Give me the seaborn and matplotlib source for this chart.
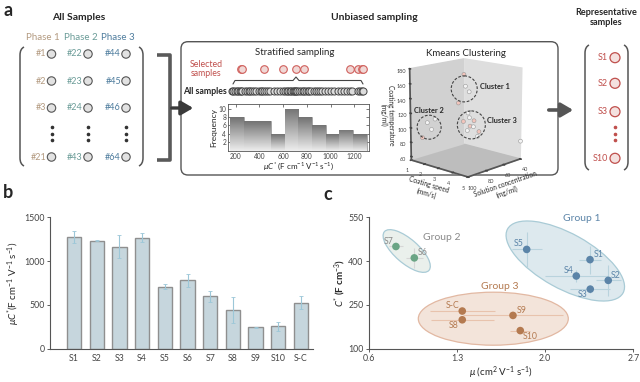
import numpy as np
import pandas as pd
import matplotlib
matplotlib.use('Agg')
import matplotlib.pyplot as plt
import seaborn as sns
from matplotlib.patches import Ellipse, Circle, FancyBboxPatch, PathPatch
from matplotlib.path import Path
from mpl_toolkits.mplot3d import proj3d

# ── DATA ────────────────────────────────────────────────────────────────────
samples   = ['S1', 'S2', 'S3', 'S4', 'S5', 'S6', 'S7', 'S8', 'S9', 'S10', 'S-C']
muC       = [1271, 1233, 1165, 1268, 708, 780, 598, 442, 244, 255, 525]
muC_err   = [70, 5, 133, 50, 27, 72, 60, 147, 5, 51, 76]

mu        = [2.356, 2.501, 2.358, 2.247, 1.853, 0.96, 0.814, 1.341, 1.744, 1.802, 1.341]
mu_err    = [0.085, 0.10, 0.16, 0.25, 0.119, 0.066, 0.056, 0.25, 0.40, 0.08, 0.257]
cap       = [405, 334, 304, 349, 440, 411, 450, 199, 214, 162, 229]
cap_err   = [48, 54, 14, 20, 60, 34, 8, 8, 8, 8, 8]
group     = [1, 1, 1, 1, 1, 2, 2, 3, 3, 3, 3]

# all 63 screened samples (muC*)
all_muC = [165, 180, 195, 210, 222, 235, 244, 255,
           280, 295, 310, 325, 340, 355, 370,
           395, 410, 425, 442, 458, 472, 488,
           520, 545, 575, 598,
           620, 632, 645, 658, 668, 680, 690, 700, 708, 720,
           738, 752, 766, 780, 795, 808, 822, 836,
           860, 878, 896, 914, 932, 950,
           975, 1000, 1030, 1060,
           1090, 1115, 1140, 1165, 1180,
           1233, 1250, 1268, 1271]
hist_edges = [154, 269, 384, 499, 614, 729, 844, 959, 1074, 1189, 1304]
selected = [244, 255, 442, 598, 708, 780, 1165, 1233, 1268, 1271]

phases     = ['Phase 1', 'Phase 2', 'Phase 3']
phase_ids  = [['#1', '#2', '#3', '#21'], ['#22', '#23', '#24', '#43'], ['#44', '#45', '#46', '#64']]
rep_labels = ['S1', 'S2', 'S3', 'S10']

# kmeans schematic points: speed (mm/s), concentration (mg/ml), temperature, cluster
km_speed   = [1.3, 1.6, 1.2, 1.5, 1.4, 1.3, 1.5, 1.7, 3.0, 3.2, 3.4, 2.8, 3.1, 3.3, 2.9, 3.5, 2.7, 5.0]
km_conc    = [45, 48, 50, 42, 88, 92, 85, 84, 66, 64, 68, 62, 70, 60, 66, 65, 68, 40]
km_temp    = [160, 145, 120, 135, 105, 85, 95, 110, 112, 108, 102, 98, 96, 92, 118, 88, 106, 80]
km_cluster = [1, 1, 1, 1, 2, 2, 2, 2, 3, 3, 3, 3, 3, 3, 3, 3, 3, 0]
km_sel     = [1, 0, 1, 0, 0, 1, 0, 0, 0, 1, 0, 1, 0, 1, 0, 0, 1, 0]

# ── STYLE ───────────────────────────────────────────────────────────────────
sns.set_theme(style='ticks')
plt.rcParams['font.family'] = ['Lato', 'DejaVu Sans']
plt.rcParams['mathtext.fontset'] = 'custom'
plt.rcParams['mathtext.rm'] = 'Lato'
plt.rcParams['mathtext.it'] = 'Lato:italic'
plt.rcParams['axes.edgecolor'] = '#555555'
plt.rcParams['xtick.color'] = '#444444'
plt.rcParams['ytick.color'] = '#444444'

PH_COL = ['#b39a80', '#6b9c98', '#4f7d9e']
RED = '#c0504d'
G_COL = {1: '#5b84a8', 2: '#6aa585', 3: '#b47a50'}
G_TXT = {1: '#5b84a8', 2: '#8a8a8a', 3: '#b47a50'}
G_ERR = {1: '#b9d3dd', 2: '#d6d6d6', 3: '#e8c3ad'}

fig = plt.figure(figsize=(6.4, 3.82), dpi=100)

# pixel-space overlay (image coordinates, y down)
ov = fig.add_axes([0, 0, 1, 1], zorder=0)
ov.set_xlim(0, 640)
ov.set_ylim(382, 0)
ov.axis('off')

def px(x, y):
    return x / 640, 1 - y / 382

# ── PANEL A ─────────────────────────────────────────────────────────────────
ov.text(3, 10, 'a', fontsize=13, fontweight='bold', va='center', ha='left')
ov.text(79, 17, 'All Samples', fontsize=7.5, fontweight='bold', ha='center', va='center')
ov.text(374, 17, 'Unbiased sampling', fontsize=7.5, fontweight='bold', ha='center', va='center')
ov.text(606, 17.5, 'Representative\nsamples', fontsize=6.6, fontweight='bold',
        ha='center', va='center', linespacing=1.15)

def paren(x, y0, y1, side):
    d = 4 if side == 'l' else -4
    verts = [(x + d, y0), (x, y0 + 2), (x, y0 + 8), (x, y1 - 8), (x, y1 - 2), (x + d, y1)]
    codes = [Path.MOVETO, Path.CURVE3, Path.CURVE3, Path.LINETO, Path.CURVE3, Path.CURVE3]
    ov.add_patch(PathPatch(Path(verts, codes), fill=False, ec='#555555', lw=1.1))

paren(20, 47, 166, 'l')
paren(143, 47, 166, 'r')
paren(585, 45, 170, 'l')
paren(628, 45, 170, 'r')

col_x = [51.5, 88, 126]
row_y = [54, 81, 108, 157]
for c in range(3):
    ov.text([43, 81, 118][c], 37.7, phases[c], color=PH_COL[c], fontsize=7, ha='center', va='center')
    for r in range(4):
        ov.add_patch(Circle((col_x[c], row_y[r]), 4.2, fc='#e2e2e2', ec='#555555', lw=0.8))
        ov.text(col_x[c] - 5, row_y[r], phase_ids[c][r], color=PH_COL[c], fontsize=6.5,
                ha='right', va='center')
    ov.plot([col_x[c]] * 3, [127, 133.5, 140], 'o', color='#333333', ms=1.6)

# representative samples
rep_y = [57.7, 83.3, 111.7, 158.3]
for lab, y in zip(rep_labels, rep_y):
    ov.add_patch(Circle((615, y), 5, fc='#f4e1df', ec=RED, lw=0.9))
    ov.text(608, y, lab, color=RED, fontsize=6.5, ha='right', va='center')
ov.plot([615] * 3, [127, 133.5, 140], 'o', color=RED, ms=1.6)

# big bracket + arrows
ov.plot([157, 170, 170, 157], [55, 55, 160, 160], color='#5a5a5a', lw=2.6,
        solid_joinstyle='round', solid_capstyle='butt')
ov.annotate('', xy=(196, 108), xytext=(169, 108),
            arrowprops=dict(arrowstyle='-|>,head_length=0.6,head_width=0.35',
                            color='#3a3a3a', lw=2.4))
ov.annotate('', xy=(576, 110), xytext=(546, 110),
            arrowprops=dict(arrowstyle='-|>,head_length=0.6,head_width=0.35',
                            color='#555555', lw=2.6))

# unbiased sampling box
ov.add_patch(FancyBboxPatch((181, 41.7), 377, 133.3, boxstyle='round,pad=0,rounding_size=7',
                            fc='none', ec='#555555', lw=1.0))
ov.text(295, 52.7, 'Stratified sampling', fontsize=7, ha='center', va='center')
ov.text(466, 53.3, 'Kmeans Clustering', fontsize=7, ha='center', va='center')
ov.text(206, 69, 'Selected\nsamples', fontsize=6.3, color=RED, ha='center', va='center',
        linespacing=1.1)
ov.text(205, 91, 'All samples', fontsize=6.3, fontweight='bold', ha='center', va='center')
ov.plot([233, 235, 293, 296, 299, 361, 363], [84, 80.5, 80.5, 77, 80.5, 80.5, 84],
        color='#444444', lw=0.8)

# sample strips sharing the histogram x scale
hist_l, hist_r = 228.3, 369
strip = fig.add_axes([px(hist_l, 0)[0], 1 - 97 / 382, (hist_r - hist_l) / 640, 35 / 382], zorder=2)
strip.set_xlim(138, 1324)
strip.set_ylim(0, 1)
strip.axis('off')
strip.scatter(all_muC, [0.17] * len(all_muC), s=26, fc='#dcdcdc', ec='#444444', lw=0.7)
strip.scatter(selected, [0.8] * len(selected), s=30, fc='#f0d8d6', ec='#d0605c', lw=0.8)

# histogram
axh = fig.add_axes([px(hist_l, 0)[0], 1 - 150.7 / 382, (hist_r - hist_l) / 640, 46.7 / 382], zorder=2)
sns.histplot(x=all_muC, bins=hist_edges, ax=axh, color='#9a9a9a', edgecolor='#8a8a8a',
             linewidth=0.4, alpha=1)
grad = np.linspace(0.45, 0.93, 64)[:, None]
for p in list(axh.patches):
    x0, w, h = p.get_x(), p.get_width(), p.get_height()
    im = axh.imshow(grad, cmap='gray', vmin=0, vmax=1, aspect='auto', origin='upper',
                    extent=(x0, x0 + w, 0, h), zorder=p.get_zorder())
    im.set_clip_path(p)
axh.set_xlim(138, 1324)
axh.set_ylim(0, 11.1)
axh.set_xticks([200, 400, 600, 800, 1000, 1200])
axh.set_yticks([2, 4, 6, 8, 10])
axh.tick_params(labelsize=4.8, direction='in', top=True, right=True, length=2, pad=1.5, width=0.5)
for s in axh.spines.values():
    s.set_linewidth(0.6)
axh.set_ylabel('Frequency', fontsize=6, labelpad=1)
axh.set_xlabel(r'$\mu C^{*}$ (F cm$^{-1}$ V$^{-1}$ s$^{-1}$)', fontsize=5.8, labelpad=1)

# kmeans 3D schematic
ax3 = fig.add_axes([0.615, 0.505, 0.22, 0.38], projection='3d', zorder=2)
ax3.patch.set_alpha(0)
ax3.set_box_aspect((1, 1, 1.2))
ax3.view_init(elev=14, azim=-47)
ax3.set_xlim(1, 5)
ax3.set_ylim(100, 40)
ax3.set_zlim(55, 180)
ax3.set_xticks([1, 2, 3, 4, 5])
ax3.set_yticks([100, 80, 60, 40])
ax3.set_zticks([60, 80, 100, 120, 140, 160, 180])
ax3.zaxis.set_ticks_position('upper')
ax3.zaxis.set_label_position('upper')
ax3.grid(False)
ax3.xaxis.set_pane_color((0.82, 0.82, 0.82, 1))
ax3.yaxis.set_pane_color((0.87, 0.87, 0.87, 1))
ax3.zaxis.set_pane_color((0.74, 0.74, 0.74, 1))
ax3.tick_params(labelsize=4, pad=-4)
ax3.set_xlabel('Coating speed\n(mm/s)', fontsize=4.8, labelpad=-11)
ax3.set_ylabel('Solution concentration\n(mg/ml)', fontsize=4.8, labelpad=-11)
ax3.set_zlabel('Coating temperature\n(mg/ml)', fontsize=4.8, labelpad=-10)
ax3.scatter(km_speed, km_conc, km_temp, s=8,
            c=['#f2c4bb' if k else '#f4f4f4' for k in km_sel], edgecolors='#999999',
            linewidths=0.4, depthshade=False)

ov2 = fig.add_axes([0, 0, 1, 1], zorder=5)
ov2.set_xlim(0, 640)
ov2.set_ylim(382, 0)
ov2.axis('off')

# dashed cluster outlines centred on projected cluster centroids
fig.canvas.draw()
km = pd.DataFrame({'s': km_speed, 'c': km_conc, 't': km_temp, 'k': km_cluster})
cent = km[km.k > 0].groupby('k').mean()
radii = {1: 13, 2: 12, 3: 14}
lab_off = {1: (31, -2), 2: (0, -17), 3: (31, -4)}
for k, row in cent.iterrows():
    xs, ys, _ = proj3d.proj_transform(row.s, row.c, row.t, ax3.get_proj())
    dx, dy = ax3.transData.transform((xs, ys))
    cx, cy = dx * 640 / fig.bbox.width, 382 - dy * 382 / fig.bbox.height
    ov2.add_patch(Circle((cx, cy), radii[k], fill=False, ec='#444444', lw=0.8, ls=(0, (2.5, 1.5))))
    ov2.text(cx + lab_off[k][0], cy + lab_off[k][1], f'Cluster {k}', fontsize=5.3,
             fontweight='bold', ha='center', va='center')

# ── PANEL B ─────────────────────────────────────────────────────────────────
ov.text(3, 193, 'b', fontsize=13, fontweight='bold', va='center', ha='left')
axb = fig.add_axes([50 / 640, 1 - 348.7 / 382, 263 / 640, 131.4 / 382], zorder=2)
dfb = pd.DataFrame({'sample': samples, 'muC': muC})
sns.barplot(data=dfb, x='sample', y='muC', color='#c6d6dd', edgecolor='#8f8f8f',
            linewidth=1.0, width=0.63, saturation=1, errorbar=None, ax=axb)
axb.errorbar(range(len(samples)), muC, yerr=muC_err, fmt='none', ecolor='#9cc7d8',
             elinewidth=0.8, capsize=1.2, capthick=0.6)
axb.set_xlim(-1.06, 10.53)
axb.set_ylim(0, 1500)
axb.set_yticks([0, 500, 1000, 1500])
axb.set_xlabel('')
axb.set_ylabel(r'$\mu C^{*}$(F cm$^{-1}$ V$^{-1}$ s$^{-1}$)', fontsize=7)
axb.yaxis.set_label_coords(-0.105, 0.5)
axb.tick_params(axis='y', labelsize=6.3, length=2.5, width=0.6, pad=1.5)
axb.tick_params(axis='x', labelsize=6.3, length=0, pad=4)
sns.despine(ax=axb)
for s in axb.spines.values():
    s.set_linewidth(0.8)

# ── PANEL C ─────────────────────────────────────────────────────────────────
ov.text(323, 195, 'c', fontsize=13, fontweight='bold', va='center', ha='left')
axc = fig.add_axes([369 / 640, 1 - 348.7 / 382, 264.3 / 640, 131.4 / 382], zorder=2)
axc.patch.set_alpha(0)
ells = [((565.3, 261), 132, 55, 29, '#dde9ee', '#a9cbd6', 1),
        ((406.7, 251), 59, 24, 41, '#eaf0ec', '#a9cbd6', 2),
        ((493.3, 318.7), 150, 53, 0, '#f3e4da', '#e2b8a2', 3)]
for (c, w, h, a, fc, ec, g) in ells:
    axc.add_patch(Ellipse(c, w, h, angle=a, fc=fc, ec=ec, lw=0.9, transform=ov.transData,
                          clip_on=False, zorder=0.5))
dfc = pd.DataFrame({'sample': samples, 'mu': mu, 'cap': cap, 'group': group})
for i in range(len(samples)):
    axc.errorbar(mu[i], cap[i], xerr=mu_err[i], yerr=cap_err[i], fmt='none',
                 ecolor=G_ERR[group[i]], elinewidth=0.8, capsize=0, zorder=1)
sns.scatterplot(data=dfc, x='mu', y='cap', hue='group', palette=G_COL, s=30,
                edgecolor='none', legend=False, ax=axc, zorder=3)
offs = [(8.7, -5.3), (7.7, -5.3), (-7.7, 5.3), (-8, -5.3), (-7.7, -6), (8, -5.7),
        (-7, -5), (-9, 6), (8.3, -5.3), (10, 6), (-9.7, -5.3)]
for i, lab in enumerate(samples):
    dx, dy = offs[i]
    axc.annotate(lab, (mu[i], cap[i]), xytext=(dx * 0.72, -dy * 0.72), textcoords='offset points',
                 ha='center', va='center', fontsize=6.3, color=G_TXT[group[i]])
for g, (x, y) in zip([1, 2, 3], [(581.7, 218.3), (441.7, 237.3), (500, 286.7)]):
    ov2.text(x, y, f'Group {g}', fontsize=7.5, color=G_TXT[g], ha='center', va='center')
axc.set_xlim(0.6, 2.7)
axc.set_ylim(100, 550)
axc.set_xticks([0.6, 1.3, 2.0, 2.7])
axc.set_yticks([100, 250, 400, 550])
axc.set_xlabel(r'$\mu$ (cm$^{2}$ V$^{-1}$ s$^{-1}$)', fontsize=7, labelpad=1)
axc.set_ylabel(r'$C^{*}$ (F cm$^{-3}$)', fontsize=7, fontweight='bold')
axc.yaxis.set_label_coords(-0.08, 0.5)
axc.tick_params(labelsize=6.3, length=2.5, width=0.6, pad=1.5)
sns.despine(ax=axc)
for s in axc.spines.values():
    s.set_linewidth(0.8)

fig.savefig('out.png', dpi=100)
